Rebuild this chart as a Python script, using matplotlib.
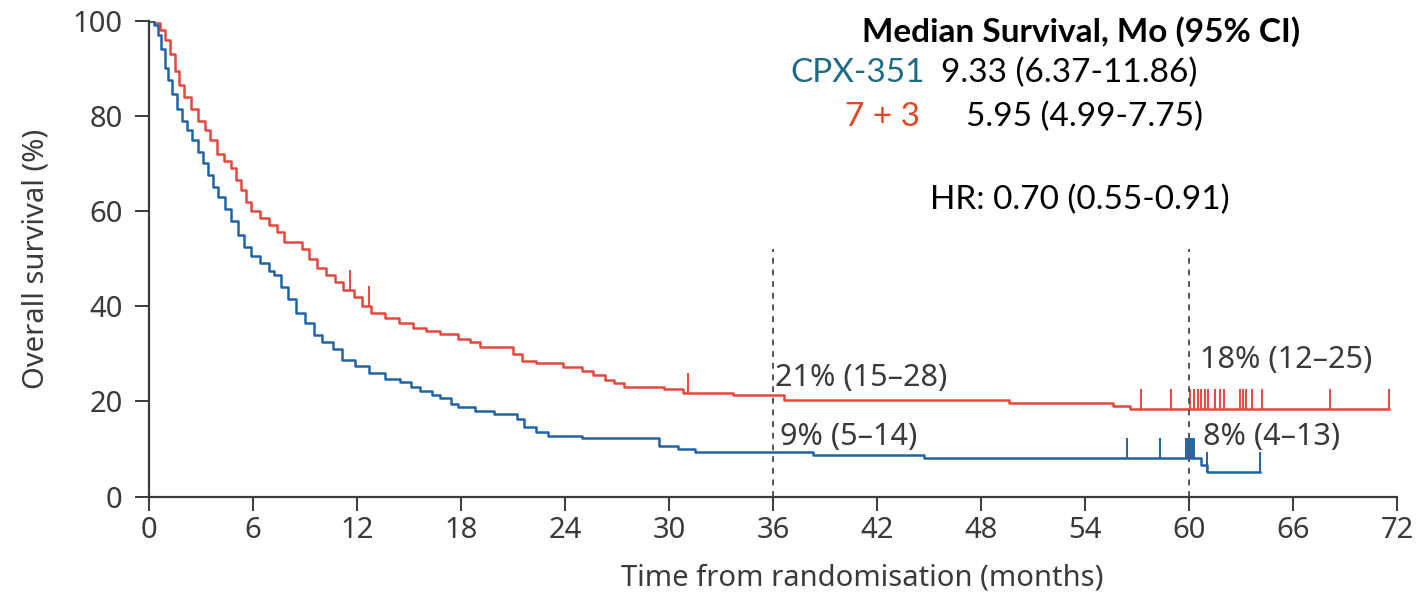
import numpy as np
import matplotlib
matplotlib.use("Agg")
import matplotlib.pyplot as plt

plt.rcParams['font.family'] = ['Noto Sans', 'DejaVu Sans']

# Kaplan-Meier steps (months, % surviving)
red_t = [0.0, 0.3, 0.6, 0.9, 1.2, 1.5, 1.7, 2.0, 2.4, 2.8, 3.2, 3.5, 3.9, 4.3, 4.7,
         5.0, 5.3, 5.6, 5.9, 6.4, 6.9, 7.4, 7.8, 8.8, 9.2, 9.7, 10.2, 10.7, 11.2,
         11.8, 12.3, 12.8, 13.6, 14.4, 15.2, 16.0, 16.8, 17.8, 18.5, 19.1, 21.0,
         21.5, 22.3, 23.9, 25.0, 25.6, 26.3, 26.8, 27.4, 29.7, 30.8, 33.7, 36.6,
         49.6, 55.6, 56.6, 71.5]
red_s = [100, 99.5, 98, 96, 93, 89.5, 86.5, 84, 81.5, 79, 77, 75, 72, 70.5, 69,
         66.5, 64.5, 62, 60, 58.5, 57, 55.5, 53.5, 52, 50, 48, 46.5, 45, 43.5,
         42, 40, 38.5, 37.5, 36.5, 35.5, 34.8, 34.2, 33.2, 32.5, 31.4, 30,
         28.5, 28, 27.3, 26.3, 25.5, 24.6, 23.8, 23.0, 22.6, 21.8, 21.4, 20.4,
         19.6, 19.1, 18.5, 18.5]
red_cens = [11.6, 12.7, 31.1, 57.2, 58.95, 60.07, 60.3, 60.5, 60.7, 60.9, 61.1,
            61.5, 61.76, 62.03, 62.9, 63.1, 63.3, 63.6, 64.2, 68.1, 71.5]

blue_t = [0.0, 0.3, 0.5, 0.7, 0.9, 1.1, 1.3, 1.6, 1.9, 2.2, 2.5, 2.8, 3.1, 3.4, 3.7,
          4.0, 4.4, 4.7, 5.1, 5.5, 5.9, 6.4, 6.9, 7.2, 7.6, 8.0, 8.5, 9.0, 9.5,
          10.0, 10.6, 11.1, 11.9, 12.7, 13.6, 14.5, 15.1, 15.6, 16.3, 16.8, 17.4,
          17.8, 18.8, 19.9, 21.2, 21.6, 22.3, 23.0, 25.0, 29.4, 30.5, 31.5, 38.3,
          44.7, 60.7, 61.0, 64.1]
blue_s = [100, 99, 97, 94, 90, 87.5, 84.5, 81.5, 79, 77, 75, 72.5, 70, 67.5, 65,
          63, 60.5, 58, 55, 52.5, 50.5, 49, 47.5, 46.5, 44, 41.5, 38.5, 36.5, 34,
          32.5, 31, 28.8, 27.5, 26, 24.8, 24, 23, 22.3, 21.3, 20.8, 19.5,
          18.8, 18, 17.4, 16.3, 14.6, 13.6, 12.8, 12.3, 10.7, 10.0, 9.3, 8.7,
          8.1, 6.6, 5.1, 5.1]
blue_cens = [56.4, 58.3, 59.8, 59.9, 60.0, 60.1, 60.2, 60.3, 61.0, 64.1]

landmarks = [36, 60]
red_notes = ['21% (15–28)', '18% (12–25)']
blue_notes = ['9% (5–14)', '8% (4–13)']

red_col = '#e8473d'
blue_col = '#2163a8'
axis_col = '#3a3a3a'


def surv_at(t, s, x):
    i = np.searchsorted(t, x, side='right') - 1
    return s[i]


fig = plt.figure(figsize=(14.2, 5.99), dpi=100)
ax = fig.add_axes([0.105, 0.1708, 0.879, 0.7947])

ax.step(red_t, red_s, where='post', color=red_col, lw=1.8)
ax.step(blue_t, blue_s, where='post', color=blue_col, lw=1.8)

# censor marks drawn as short upward ticks
for x in red_cens:
    y = surv_at(red_t, red_s, x)
    ax.vlines(x, y, y + 4.2, color=red_col, lw=1.4)
for x in blue_cens:
    y = surv_at(blue_t, blue_s, x)
    ax.vlines(x, y, y + 4.2, color=blue_col, lw=1.4)

for x in landmarks:
    ax.vlines(x, 0, 52, color='#555555', lw=1.4, linestyles=(0, (3, 3)))

note_kw = dict(fontsize=22, color=axis_col, va='center')
ax.text(36.1, 24.9, red_notes[0], **note_kw)
ax.text(36.4, 12.6, blue_notes[0], **note_kw)
ax.text(60.6, 28.8, red_notes[1], **note_kw)
ax.text(60.8, 12.6, blue_notes[1], **note_kw)

ax.set_xlim(0, 72)
ax.set_ylim(0, 100)
ax.set_xticks(range(0, 73, 6))
ax.set_yticks(range(0, 101, 20))
ax.spines['top'].set_visible(False)
ax.spines['right'].set_visible(False)
for sp in ['left', 'bottom']:
    ax.spines[sp].set_color(axis_col)
    ax.spines[sp].set_linewidth(1.6)
ax.tick_params(direction='out', length=10, width=1.4, color=axis_col,
               labelcolor=axis_col, labelsize=21)
ax.tick_params(axis='x', pad=4)
ax.tick_params(axis='y', pad=9)

ax.set_ylabel('Overall survival (%)', fontsize=21, color=axis_col)
ax.yaxis.set_label_coords(-0.079, 0.5)
ax.set_xlabel('Time from randomisation (months)', fontsize=21, color=axis_col)
ax.xaxis.set_label_coords(0.571, -0.14)

# summary block top right
top_kw = dict(fontsize=24, va='center', family=['Lato', 'DejaVu Sans'])
fig.text(0.607, 0.947, 'Median Survival, Mo (95% CI)', fontweight='bold',
         ha='left', **top_kw)
fig.text(0.651, 0.878, 'CPX-351', color='#1d6a85', ha='right', **top_kw)
fig.text(0.663, 0.878, '9.33 (6.37-11.86)', ha='left', **top_kw)
fig.text(0.648, 0.805, '7 + 3', color='#e4461f', ha='right', **top_kw)
fig.text(0.680, 0.805, '5.95 (4.99-7.75)', ha='left', **top_kw)
fig.text(0.655, 0.666, 'HR: 0.70 (0.55-0.91)', ha='left', **top_kw)

fig.savefig('out.png', dpi=100)
